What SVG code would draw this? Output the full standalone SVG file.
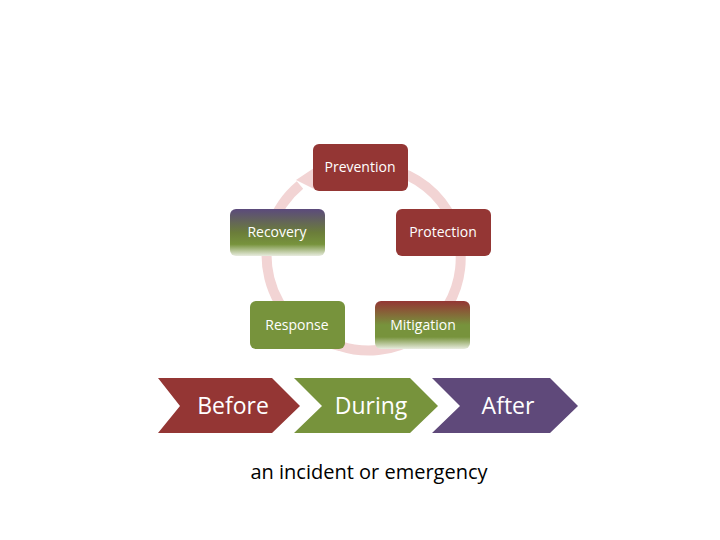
<svg xmlns="http://www.w3.org/2000/svg" width="720" height="540" viewBox="0 0 720 540">
<defs>
<style>
.t{font-family:"Open Sans","DejaVu Sans",sans-serif;font-size:14px;fill:#fff;text-anchor:middle;font-weight:500}
.c{font-family:"Open Sans","DejaVu Sans",sans-serif;font-size:23px;fill:#fff;text-anchor:middle}
</style>
<linearGradient id="gRec" x1="0" y1="0" x2="0" y2="1"><stop offset="0" stop-color="#5b4a7c"/><stop offset="0.5" stop-color="#6b7d3a"/><stop offset="0.75" stop-color="#77933c"/><stop offset="1" stop-color="#e8ecdf"/></linearGradient>
<linearGradient id="gMit" x1="0" y1="0" x2="0" y2="1"><stop offset="0" stop-color="#943634"/><stop offset="0.5" stop-color="#77933c"/><stop offset="0.75" stop-color="#77933c"/><stop offset="1" stop-color="#e8ecdf"/></linearGradient>
<marker id="ah" markerWidth="6" markerHeight="6" refX="3" refY="3" orient="auto"><path d="M0,0 L6,3 L0,6 z" fill="#f2d4d4"/></marker>
</defs>
<g id="connectors">
<path d="M360,167 A92,92 0 1 1 340,346" fill="none" stroke="#f2d4d4" stroke-width="10"/>
<path d="M340,346 A92,92 0 0 1 300,185" fill="none" stroke="#f2d4d4" stroke-width="10"/>
<path d="M296,180 L314,168 L316,190 z" fill="#f2d4d4"/>
</g>
<g id="prevention"><rect x="313" y="144" width="95" height="47" rx="6" fill="#943634"/><text class="t" x="360" y="172">Prevention</text></g>
<g id="protection"><rect x="396" y="209" width="95" height="47" rx="6" fill="#943634"/><text class="t" x="443" y="237">Protection</text></g>
<g id="recovery"><rect x="230" y="209" width="95" height="47" rx="6" fill="url(#gRec)"/><text class="t" x="277" y="237">Recovery</text></g>
<g id="response"><rect x="250" y="301" width="95" height="48" rx="6" fill="#77933c"/><text class="t" x="297" y="330">Response</text></g>
<g id="mitigation"><rect x="375" y="301" width="95" height="48" rx="6" fill="url(#gMit)"/><text class="t" x="423" y="330">Mitigation</text></g>
<g id="before"><path d="M158,378 L272,378 L300,406 L272,433 L158,433 L180,406 z" fill="#943634"/><text class="c" x="233" y="414">Before</text></g>
<g id="during"><path d="M294,378 L410,378 L438,406 L410,433 L294,433 L322,406 z" fill="#77933c"/><text class="c" x="371" y="414">During</text></g>
<g id="after"><path d="M432,378 L550,378 L578,406 L550,433 L432,433 L460,406 z" fill="#5f497a"/><text class="c" x="508" y="414">After</text></g>
<text x="369" y="479" font-family="'Open Sans','DejaVu Sans',sans-serif" font-size="20" text-anchor="middle" fill="#000">an incident or emergency</text>
</svg>
